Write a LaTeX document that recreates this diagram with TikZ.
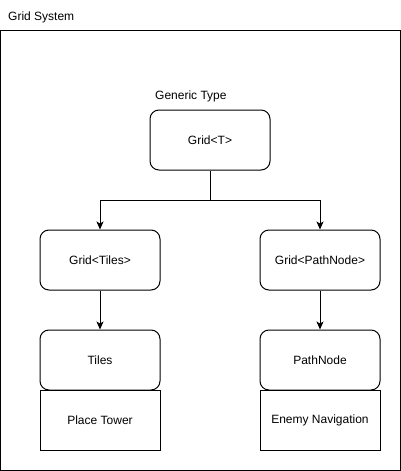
\documentclass[tikz,border=0pt]{standalone}
\usepackage{fontspec}
\setmainfont{Liberation Sans}
\usetikzlibrary{arrows.meta,positioning}
\tikzset{
  every node/.style={font=\fontsize{12}{14}\selectfont},
  rbox/.style={draw, line width=1pt, rounded corners=9pt, minimum width=120pt, minimum height=60pt, inner sep=0pt, fill=white},
  sbox/.style={draw, line width=1pt, minimum width=120pt, minimum height=60pt, inner sep=0pt, fill=white},
  conn/.style={line width=1pt, -{Stealth[length=8pt,width=7pt,inset=2pt]}},
  lbl/.style={inner sep=0pt, anchor=west}
}
\begin{document}
\begin{tikzpicture}[x=1pt,y=-1pt]
\useasboundingbox (0,0) rectangle (401,471);
\node[draw, line width=1pt, minimum width=400pt, minimum height=440pt, inner sep=0pt] (frame) at (200.5,250) {};
\node[lbl] (title) at (8,17) {Grid System};
\node[lbl] (generic) at (155,96) {Generic Type};
\node[rbox] (gridT) at (210,140) {Grid<T>};
\node[rbox] (gridTiles) at (100,260) {Grid<Tiles>};
\node[rbox] (gridPath) at (320,260) {Grid<PathNode>};
\node[rbox] (tiles) at (100,360) {Tiles};
\node[rbox] (path) at (320,360) {PathNode};
\node[sbox] (place) at (100,420) {Place Tower};
\node[sbox] (enemy) at (320,420) {Enemy Navigation};
\coordinate (split) at (210,200);
\draw[conn] (gridT.south) -- (split) -| (gridTiles.north);
\draw[conn] (split) -| (gridPath.north);
\draw[conn] (gridTiles.south) -- (tiles.north);
\draw[conn] (gridPath.south) -- (path.north);
\end{tikzpicture}
\end{document}
